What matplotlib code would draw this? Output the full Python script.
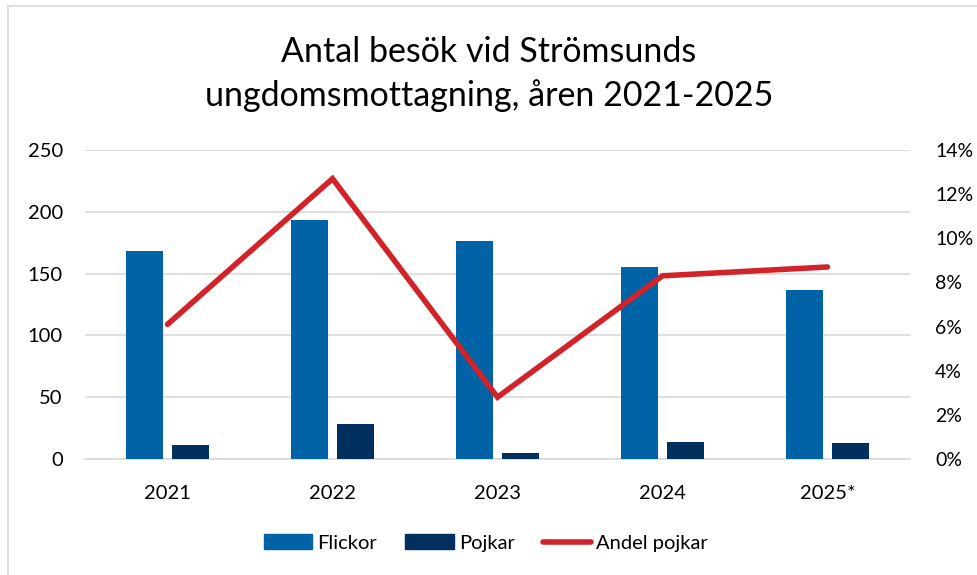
import numpy as np
import matplotlib.pyplot as plt
from matplotlib.lines import Line2D
from matplotlib.ticker import PercentFormatter

# ===================
# Data
# ===================
years = ["2021", "2022", "2023", "2024", "2025*"]
flickor = [168, 193, 176, 155, 137]
pojkar = [11, 28, 5, 14, 13]
andel_pojkar = [6.1, 12.7, 2.8, 8.3, 8.7]
title = "Antal besök vid Strömsunds\nungdomsmottagning, åren 2021-2025"

plt.rcParams["font.family"] = ["Lato", "DejaVu Sans"]

# ===================
# Plot
# ===================
fig = plt.figure(figsize=(9.78, 5.75), dpi=100)
ax = fig.add_axes([85 / 978, 1 - 459 / 575, 825 / 978, 309 / 575])

x = np.arange(len(years))
w = 0.224
ax.bar(x - 0.142, flickor, w, color="#0063A6", label="Flickor", zorder=3)
ax.bar(x + 0.142, pojkar, w, color="#00305E", label="Pojkar", zorder=3)

ax.set_xlim(-0.5, len(years) - 0.5)
ax.set_ylim(0, 250)
ax.set_yticks(range(0, 251, 50))
ax.set_xticks(x)
ax.set_xticklabels(years)
ax.grid(axis="y", color="#D9D9D9", linewidth=1.2, zorder=0)
for s in ["top", "right", "left"]:
    ax.spines[s].set_visible(False)
ax.spines["bottom"].set_color("#D9D9D9")
ax.spines["bottom"].set_linewidth(1.2)
ax.tick_params(axis="both", length=0, labelsize=14.5, colors="black")
ax.tick_params(axis="x", pad=19)
ax.tick_params(axis="y", pad=16)

ax2 = ax.twinx()
ax2.plot(x, andel_pojkar, color="#D2232A", linewidth=4, solid_capstyle="round",
         solid_joinstyle="miter", zorder=4)
ax2.set_ylim(0, 14)
ax2.set_yticks(range(0, 15, 2))
ax2.yaxis.set_major_formatter(PercentFormatter(decimals=0))
for s in ax2.spines.values():
    s.set_visible(False)
ax2.tick_params(axis="y", length=0, labelsize=14, pad=18)

fig.text(0.5, 1 - 74 / 575, title, ha="center", va="center", fontsize=24.5,
         linespacing=1.45)

handles = [
    plt.Rectangle((0, 0), 1, 1, color="#0063A6"),
    plt.Rectangle((0, 0), 1, 1, color="#00305E"),
    Line2D([0], [0], color="#D2232A", linewidth=4, solid_capstyle="round"),
]
fig.legend(handles, ["Flickor", "Pojkar", "Andel pojkar"], loc="center",
           bbox_to_anchor=(486 / 978, 1 - 543 / 575), ncol=3, frameon=False,
           fontsize=14.5, handlelength=2.4, handleheight=0.75,
           columnspacing=1.4, handletextpad=0.25)

# chart border (left and top edges)
fig.add_artist(Line2D([8 / 978, 8 / 978], [0, 1 - 6 / 575], color="#D9D9D9",
                      linewidth=1.2, transform=fig.transFigure))
fig.add_artist(Line2D([8 / 978, 1], [1 - 6 / 575, 1 - 6 / 575], color="#D9D9D9",
                      linewidth=1.2, transform=fig.transFigure))

plt.savefig("out.png", dpi=100)
